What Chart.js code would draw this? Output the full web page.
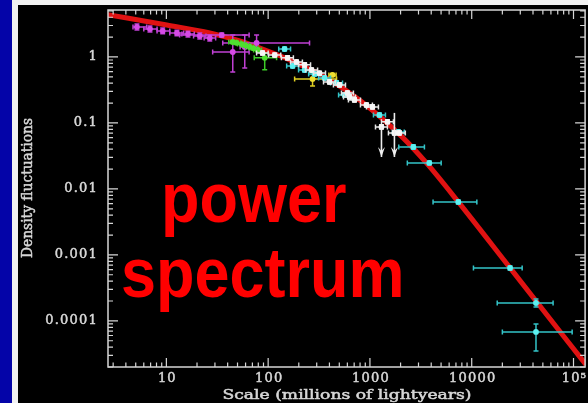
<!DOCTYPE html>
<html>
<head>
<meta charset="utf-8">
<script src="https://cdn.jsdelivr.net/npm/chart.js@4"></script>
<style>
  html, body { margin: 0; padding: 0; background: #0404a8; }
  #wrap { width: 588px; height: 403px; }
</style>
</head>
<body>
<div id="wrap"><canvas id="spectrum" width="588" height="403"></canvas></div>
<script>
// model curve
const curveX = [2.5, 10.1, 26.7, 52.5, 92.5, 163, 401, 789, 2080, 3660, 7380, 23800, 132000];
const curveY = [4.45, 3.05, 2.31, 1.75, 1.28, 0.90, 0.45, 0.223, 0.061, 0.0239, 0.00635, 0.000635, 0.0000219];

// measurements: [x, y, xLow, xHigh, yLow, yHigh]
const magentaPts = [
    [5.14, 2.85, 4.7, 6.4, 2.57, 3.16],
    [6.9, 2.66, 6.0, 8.1, 2.4, 2.95],
    [9.2, 2.48, 8.1, 10.8, 2.25, 2.75],
    [12.7, 2.31, 10.8, 14.8, 2.1, 2.55],
    [16.3, 2.23, 14.2, 18.8, 2.0, 2.45],
    [21.3, 2.08, 18.5, 24.5, 1.88, 2.3],
    [26.7, 1.94, 23.5, 30.5, 1.75, 2.15],
    [35, 2.15, 13.5, 65, 2.0, 2.3],
    [44.9, 1.19, 28.5, 65, 0.59, 2.15],
    [58.9, 1.42, 53, 65, 0.68, 2.15],
    [77, 1.63, 35.8, 255, 1.28, 2.15]
];
const greenPts = [
    [44.9, 1.69, 41, 49, 1.6, 1.78],
    [49, 1.64, 45, 54, 1.55, 1.73],
    [55, 1.57, 50, 60, 1.48, 1.66],
    [60, 1.50, 55, 66, 1.42, 1.59],
    [66, 1.42, 60, 72, 1.34, 1.5],
    [72, 1.35, 66, 79, 1.27, 1.43],
    [79, 1.28, 72, 86, 1.2, 1.36],
    [92.5, 0.97, 73, 121, 0.64, 1.15]
];
const whitePts = [
    [88, 1.15, 77, 100, 1.07, 1.23],
    [116, 1.07, 101, 133, 1.0, 1.15],
    [155, 0.97, 135, 177, 0.9, 1.04],
    [190, 0.84, 166, 217, 0.78, 0.9],
    [228, 0.76, 199, 261, 0.7, 0.82],
    [267, 0.635, 233, 306, 0.59, 0.68],
    [320, 0.57, 280, 366, 0.53, 0.61],
    [401, 0.418, 350, 459, 0.39, 0.45],
    [502, 0.377, 438, 575, 0.35, 0.405],
    [601, 0.285, 525, 688, 0.265, 0.305],
    [630, 0.248, 550, 721, 0.23, 0.267],
    [705, 0.223, 615, 807, 0.207, 0.24],
    [924, 0.187, 807, 1058, 0.174, 0.2],
    [1059, 0.175, 925, 1212, 0.163, 0.188],
    [1298, 0.087, 1134, 1486, 0.081, 0.094],
    [1486, 0.104, 1298, 1701, 0.097, 0.112],
    [1740, 0.0706, 1520, 1990, 0.0656, 0.076],
    [1945, 0.0706, 1699, 2227, 0.0656, 0.076]
];
const cyanPts = [
    [145, 1.32, 127, 166, 1.23, 1.42],
    [174, 0.73, 152, 199, 0.68, 0.78],
    [228, 0.635, 199, 261, 0.59, 0.68],
    [286, 0.553, 250, 327, 0.515, 0.59],
    [358, 0.48, 313, 410, 0.45, 0.515],
    [470, 0.404, 410, 538, 0.375, 0.435],
    [563, 0.266, 492, 645, 0.248, 0.285],
    [1240, 0.132, 1083, 1420, 0.123, 0.142],
    [1900, 0.0732, 1660, 2175, 0.068, 0.079],
    [2670, 0.0433, 1920, 3430, 0.040, 0.0467],
    [3830, 0.0248, 2330, 5010, 0.0232, 0.0265],
    [7380, 0.00635, 4170, 11230, 0.0059, 0.0068],
    [23800, 0.000635, 10400, 31300, 0.00059, 0.00068],
    [42800, 0.000187, 17800, 63000, 0.000163, 0.000215],
    [42800, 0.000068, 20000, 97000, 0.000035, 0.00009]
];
const yellowPts = [
    [273, 0.464, 182, 470, 0.364, 0.59],
    [428, 0.534, 395, 465, 0.51, 0.56]
];
// upper limits: [x, yFrom, yTo]
const upperLimits = [
    [1298, 0.087, 0.0305],
    [1740, 0.142, 0.0305]
];

const xTickValues = [10, 100, 1000, 10000, 100000];
const xTickLabels = ["10", "100", "1000", "10000", "10\u2075"];
const yTickValues = [1, 0.1, 0.01, 0.001, 0.0001];
const yTickLabels = ["1", "0.1", "0.01", "0.001", "0.0001"];

const xTitle = "Scale (millions of lightyears)";
const yTitle = "Density fluctuations";
const bigText = ["power", "spectrum"];

const axisColor = "#d6d6d6";
const labelFont = "13px 'DejaVu Serif'";

function toXY(rows) {
    return rows.map(r => ({ x: r[0], y: r[1] }));
}

function pointSet(rows, color, barColor) {
    return {
        type: "scatter",
        data: toXY(rows),
        errors: rows,
        barColor: barColor,
        backgroundColor: color,
        borderWidth: 0,
        pointRadius: 2.9,
        pointHoverRadius: 2.9
    };
}

// text squeezed or stretched along its baseline to a given length
function fitText(ctx, text, cx, cy, length, angle) {
    const w = ctx.measureText(text).width;
    ctx.save();
    ctx.translate(cx, cy);
    ctx.rotate(angle);
    ctx.scale(length / w, 1);
    ctx.textAlign = "center";
    ctx.textBaseline = "middle";
    ctx.fillText(text, 0, 0);
    ctx.strokeText(text, 0, 0);
    ctx.restore();
}

const framePlugin = {
    id: "frame",
    beforeDraw(chart) {
        const ctx = chart.ctx;
        ctx.save();
        ctx.fillStyle = "#0404a8";
        ctx.fillRect(0, 0, chart.width, chart.height);
        ctx.fillStyle = "#f2f2f2";
        ctx.fillRect(12, 0, chart.width - 12, chart.height);
        ctx.fillStyle = "#000000";
        ctx.fillRect(18, 5, chart.width - 18, chart.height - 5);
        ctx.restore();
    },
    beforeDatasetDraw(chart, args) {
        const ds = chart.data.datasets[args.index];
        if (!ds.errors) return;
        const ctx = chart.ctx;
        const xs = chart.scales.x, ys = chart.scales.y;
        const a = chart.chartArea;
        ctx.save();
        ctx.beginPath();
        ctx.rect(a.left, a.top, a.right - a.left, a.bottom - a.top);
        ctx.clip();
        ctx.strokeStyle = ds.barColor;
        ctx.lineWidth = 1.5;
        const cap = 2.5;
        ds.errors.forEach(r => {
            const px = xs.getPixelForValue(r[0]);
            const py = ys.getPixelForValue(r[1]);
            const x0 = xs.getPixelForValue(r[2]), x1 = xs.getPixelForValue(r[3]);
            const y0 = ys.getPixelForValue(r[4]), y1 = ys.getPixelForValue(r[5]);
            ctx.beginPath();
            ctx.moveTo(x0, py); ctx.lineTo(x1, py);
            ctx.moveTo(x0, py - cap); ctx.lineTo(x0, py + cap);
            ctx.moveTo(x1, py - cap); ctx.lineTo(x1, py + cap);
            ctx.moveTo(px, y0); ctx.lineTo(px, y1);
            ctx.moveTo(px - cap, y0); ctx.lineTo(px + cap, y0);
            ctx.moveTo(px - cap, y1); ctx.lineTo(px + cap, y1);
            ctx.stroke();
        });
        ctx.restore();
    },
    afterDatasetsDraw(chart) {
        const ctx = chart.ctx;
        const xs = chart.scales.x, ys = chart.scales.y;
        const a = chart.chartArea;

        // upper-limit arrows
        ctx.save();
        ctx.strokeStyle = "#eeeeee";
        ctx.fillStyle = "#eeeeee";
        ctx.lineWidth = 1.6;
        upperLimits.forEach(u => {
            const px = xs.getPixelForValue(u[0]);
            const top = ys.getPixelForValue(u[1]);
            const tip = ys.getPixelForValue(u[2]);
            ctx.beginPath();
            ctx.moveTo(px, top); ctx.lineTo(px, tip);
            ctx.stroke();
            ctx.beginPath();
            ctx.moveTo(px - 3.5, tip - 10);
            ctx.lineTo(px, tip);
            ctx.lineTo(px + 3.5, tip - 10);
            ctx.lineTo(px, tip - 6);
            ctx.closePath();
            ctx.fill();
        });
        ctx.restore();

        // frame and log ticks on all four sides
        ctx.save();
        ctx.strokeStyle = axisColor;
        ctx.lineWidth = 1.5;
        ctx.strokeRect(a.left, a.top, a.right - a.left, a.bottom - a.top);
        ctx.lineWidth = 1.2;
        ctx.beginPath();
        for (let d = 0; d <= 5; d++) {
            for (let m = 1; m <= 9; m++) {
                const v = m * Math.pow(10, d);
                if (v < xs.min || v > xs.max) continue;
                const px = xs.getPixelForValue(v);
                const len = m === 1 ? 9 : 4.5;
                ctx.moveTo(px, a.bottom); ctx.lineTo(px, a.bottom - len);
                ctx.moveTo(px, a.top); ctx.lineTo(px, a.top + len);
            }
        }
        for (let d = -5; d <= 0; d++) {
            for (let m = 1; m <= 9; m++) {
                const v = m * Math.pow(10, d);
                if (v < ys.min || v > ys.max) continue;
                const py = ys.getPixelForValue(v);
                const len = m === 1 ? 10 : 5;
                ctx.moveTo(a.left, py); ctx.lineTo(a.left + len, py);
                ctx.moveTo(a.right, py); ctx.lineTo(a.right - len, py);
            }
        }
        ctx.stroke();

        // tick labels, slightly outlined for weight
        ctx.fillStyle = axisColor;
        ctx.strokeStyle = axisColor;
        ctx.lineWidth = 0.5;
        ctx.font = labelFont;
        ctx.letterSpacing = "1.2px";
        ctx.textBaseline = "middle";
        ctx.textAlign = "center";
        xTickValues.forEach((v, i) => {
            const px = xs.getPixelForValue(v) + 1;
            ctx.fillText(xTickLabels[i], px, a.bottom + 12);
            ctx.strokeText(xTickLabels[i], px, a.bottom + 12);
        });
        ctx.textAlign = "right";
        yTickValues.forEach((v, i) => {
            const py = ys.getPixelForValue(v);
            ctx.fillText(yTickLabels[i], a.left - 10, py);
            ctx.strokeText(yTickLabels[i], a.left - 10, py);
        });
        ctx.letterSpacing = "0px";

        // axis titles
        fitText(ctx, xTitle, 347, 396, 249, 0);
        ctx.font = "14px 'DejaVu Serif'";
        fitText(ctx, yTitle, 28, 188, 140, -Math.PI / 2);

        // big caption
        ctx.fillStyle = "#ff0000";
        ctx.font = "bold 63px 'Liberation Sans'";
        ctx.textAlign = "left";
        ctx.textBaseline = "alphabetic";
        const lines = [[bigText[0], 161, 222], [bigText[1], 121, 297]];
        lines.forEach(l => {
            ctx.save();
            ctx.translate(l[1], l[2]);
            ctx.scale(1, 1.12);
            ctx.fillText(l[0], 0, 0);
            ctx.restore();
        });
        ctx.restore();
    }
};

const curveSet = {
    type: "line",
    data: curveX.map((x, i) => ({ x: x, y: curveY[i] })),
    borderColor: "#e01212",
    borderWidth: 5,
    pointRadius: 0,
    cubicInterpolationMode: "monotone",
    fill: false
};

new Chart(document.getElementById("spectrum"), {
    type: "scatter",
    data: {
        datasets: [
            pointSet(whitePts, "#f6f6f6", "#e6e6e6"),
            pointSet(cyanPts, "#5cf0f0", "#33c4c8"),
            pointSet(yellowPts, "#f0e030", "#e0d020"),
            pointSet(greenPts, "#4ee030", "#3ccc28"),
            pointSet(magentaPts, "#d64ae6", "#c040d4"),
            curveSet
        ]
    },
    options: {
        responsive: false,
        animation: false,
        devicePixelRatio: 1,
        layout: { padding: { left: 108, top: 10, right: 1, bottom: 36 } },
        plugins: { legend: { display: false }, tooltip: { enabled: false } },
        scales: {
            x: { type: "logarithmic", min: 2.67, max: 130000, display: false },
            y: { type: "logarithmic", min: 0.00002, max: 5.15, display: false }
        }
    },
    plugins: [framePlugin]
});
</script>
</body>
</html>
